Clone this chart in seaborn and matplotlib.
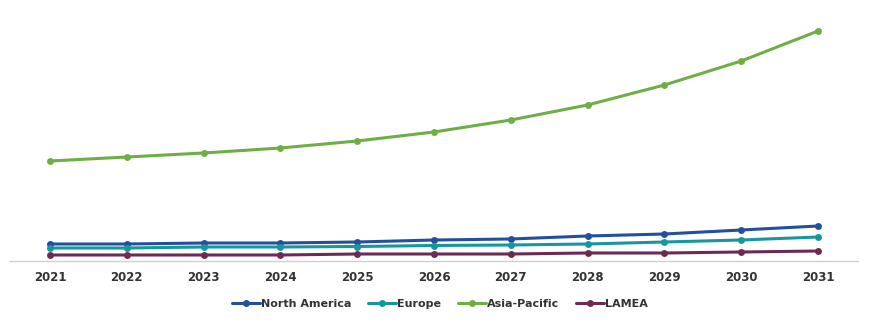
import matplotlib
matplotlib.use("Agg")
import matplotlib.pyplot as plt
import seaborn as sns
import pandas as pd

years = [2021, 2022, 2023, 2024, 2025, 2026, 2027, 2028, 2029, 2030, 2031]
north_america = [17, 17, 18, 18, 19, 21, 22, 25, 27, 31, 35]
europe = [13, 13, 14, 14, 14.5, 15.5, 16, 17, 19, 21, 24]
asia_pacific = [100, 104, 108, 113, 120, 129, 141, 156, 176, 200, 230]
lamea = [6, 6, 6, 6, 7, 7, 7, 8, 8, 9, 10]

series = {
    "North America": north_america,
    "Europe": europe,
    "Asia-Pacific": asia_pacific,
    "LAMEA": lamea,
}
colors = {
    "North America": "#22509A",
    "Europe": "#16979E",
    "Asia-Pacific": "#6FAE45",
    "LAMEA": "#6D2A55",
}

rows = []
for name, vals in series.items():
    for y, v in zip(years, vals):
        rows.append({"Year": y, "Value": v, "Region": name})
df = pd.DataFrame(rows)

sns.set_theme(style="white")
plt.rcParams['font.family'] = ['DejaVu Sans']

fig = plt.figure(figsize=(8.74, 3.24), dpi=100)
ax = fig.add_axes([10/874, 1-261/324, 848/874, (261-10)/324])

sns.lineplot(data=df, x="Year", y="Value", hue="Region", palette=colors,
             marker="o", markersize=5, markeredgewidth=0, linewidth=2.2, ax=ax)

ax.set_xlim(2020.48, 2031.52)
ax.set_ylim(0, 251)
ax.set_xticks(years)
ax.set_xticklabels([str(y) for y in years], fontsize=8.5, fontweight="bold", color="#333333")
ax.set_yticks([])
ax.set_xlabel("")
ax.set_ylabel("")
for s in ["top", "right", "left"]:
    ax.spines[s].set_visible(False)
ax.spines["bottom"].set_color("#d0d0d0")
ax.spines["bottom"].set_linewidth(1)
ax.tick_params(axis="x", length=0, pad=7)

handles, labels = ax.get_legend_handles_labels()
ax.legend(handles, labels, loc="center", bbox_to_anchor=(440/874, 1-304/324),
          bbox_transform=fig.transFigure, ncol=4, frameon=False,
          prop={"size": 8, "weight": "bold"}, labelcolor="#333333",
          handlelength=2.5, handletextpad=0.1, columnspacing=1.5)

fig.savefig("out.png", dpi=100)
